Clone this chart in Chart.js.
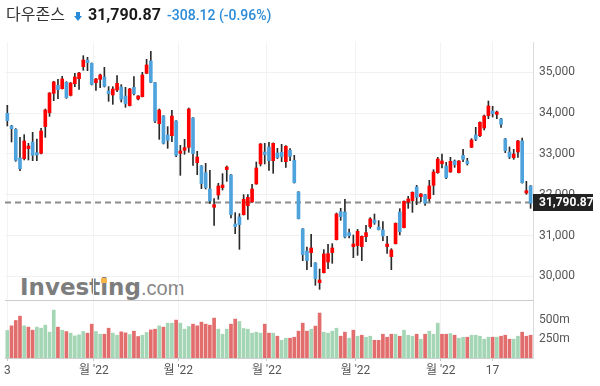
<!DOCTYPE html>
<html lang="ko">
<head>
<meta charset="utf-8">
<title>다우존스</title>
<script src="https://cdn.jsdelivr.net/npm/chart.js@4.4.1/dist/chart.umd.min.js"></script>
<style>
  html, body { margin: 0; padding: 0; background: #fff; }
  #wrap { position: relative; width: 600px; height: 386px; overflow: hidden;
          font-family: Roboto, "Noto Sans CJK KR", sans-serif; }
  #chart { position: absolute; left: 0; top: 0; z-index: 1; }
  .hdr { position: absolute; top: 3px; line-height: 24px; white-space: nowrap; z-index: 2; }
  #name { left: 6px; font-size: 16px; color: #333; }
  #arrow { left: 74px; top: 12px; width: 8px; height: 9px; }
  #arrow .stem { position: absolute; left: 2px; top: 0; width: 4px; height: 4px; background: #2a8bd8; }
  #arrow .head { position: absolute; left: 0; top: 4px; width: 0; height: 0;
                 border-left: 4px solid transparent; border-right: 4px solid transparent; border-top: 5px solid #2a8bd8; }
  #price { left: 88px; font-size: 16px; font-weight: bold; color: #1a1a1a; }
  #change { left: 167px; font-size: 14px; font-weight: 500; color: #2a8bd8; }
  #logo { position: absolute; left: 20px; top: 273px; z-index: 0; white-space: nowrap; line-height: 28px; }
  #logo .big { font-family: "DejaVu Sans", sans-serif; font-weight: bold; font-size: 23px; color: #7d7d7d; }
  #logo .dom { font-family: "Liberation Sans", sans-serif; font-size: 20px; color: #888; }
  #logo .ii { position: relative; }
  #logo .ii::after { content: ""; position: absolute; left: 1px; top: 4px; width: 6px; height: 5px; background: #f7b54a; }
</style>
</head>
<body>
<div id="wrap">
  <div id="logo"><span class="big">Invest<span class="ii">i</span>ng</span><span class="dom">.com</span></div>
  <canvas id="chart" width="600" height="386"></canvas>
  <div class="hdr" id="name">다우존스</div>
  <div class="hdr" id="arrow"><div class="stem"></div><div class="head"></div></div>
  <div class="hdr" id="price">31,790.87</div>
  <div class="hdr" id="change">-308.12 (-0.96%)</div>
</div>
<script>
// Daily candles (oldest first)
const opens = [
  33995, 33684, 33602, 32900, 32884, 33129, 33292, 33030, 33014, 33668,
  34011, 34485, 34681, 34599, 34754, 34436, 34722, 34844, 35138, 35302,
  35220, 34746, 34828, 34885, 34542, 34444, 34567, 34640, 34419, 34183,
  34632, 34346, 34403, 34975, 35277, 34746, 33741, 33929, 33464, 33447,
  33807, 33014, 33088, 33161, 33880, 32785, 32704, 32540, 32140, 31691,
  31993, 32173, 32614, 32483, 31282, 31454, 31511, 31731, 31821, 32263,
  32753, 33047, 33169, 32834, 33022, 33039, 32810, 33088, 32843, 32067,
  31160, 30620, 30580, 30326, 29844, 30089, 30351, 30580, 30898, 31584,
  31576, 31070, 30727, 30751, 30727, 30972, 31217, 31380, 31209, 31135,
  30727, 30482, 30800, 31576, 31193, 31821, 31854, 32189, 31952, 32001,
  31903, 32230, 32540, 32761, 32704, 32557, 32826, 32540, 32965, 32826,
  33161, 33464, 33447, 33635, 33937, 34052, 33970, 33856, 33366, 33047,
  32908, 33047, 33317, 32042, 32214
];
const highs = [
  34191, 33700, 33620, 33406, 33472, 33259, 33529, 33366, 33627, 34101,
  34501, 34780, 34828, 34901, 34770, 34750, 34975, 35000, 35408, 35367,
  35230, 34852, 34959, 35122, 34648, 34648, 34918, 34697, 34632, 34607,
  34893, 34430, 35000, 35318, 35514, 34755, 34101, 33940, 33668, 34068,
  33815, 33210, 33357, 34125, 33890, 33063, 32715, 32769, 32598, 31903,
  32279, 32516, 32704, 32495, 31560, 31535, 32001, 32001, 32254, 32802,
  33255, 33259, 33284, 33270, 33137, 33235, 33202, 33129, 32965, 32077,
  31170, 30719, 31029, 30336, 30179, 30653, 30784, 30800, 31552, 31666,
  31887, 31160, 31013, 31151, 30990, 31250, 31437, 31527, 31364, 31339,
  30980, 30678, 31310, 31658, 31850, 31960, 32070, 32230, 32030, 32010,
  32352, 32614, 32916, 32998, 32794, 32916, 32851, 32835, 33112, 32892,
  33374, 33651, 33785, 33954, 34297, 34166, 34052, 33870, 33380, 33169,
  33112, 33330, 33390, 32328, 32225
];
const lows = [
  33684, 33292, 32818, 32589, 32851, 32851, 32834, 32834, 32998, 33406,
  33921, 34305, 34354, 34590, 34362, 34420, 34648, 34583, 35049, 35040,
  34689, 34558, 34624, 34640, 34289, 34215, 34526, 34272, 34142, 34174,
  34444, 34322, 34395, 34965, 34745, 33766, 33357, 33243, 33137, 33300,
  32933, 32475, 32990, 33039, 32720, 32491, 32148, 32140, 31789, 31250,
  31887, 32115, 32328, 31429, 31045, 30661, 31500, 31397, 31810, 32255,
  32704, 32753, 32598, 32524, 32884, 32810, 32671, 32834, 32285, 31405,
  30384, 30163, 30236, 29779, 29681, 30080, 30187, 30318, 30890, 31372,
  30939, 30939, 30457, 30514, 30384, 30849, 31176, 31274, 31135, 30874,
  30563, 30163, 30790, 31013, 31185, 31666, 31568, 31756, 31830, 31740,
  31838, 32001, 32524, 32655, 32393, 32548, 32671, 32532, 32810, 32728,
  33153, 33325, 33423, 33586, 33864, 33905, 33864, 33652, 33031, 32884,
  32867, 32916, 32285, 32010, 31666
];
const closes = [
  33815, 33619, 32843, 32638, 33317, 33194, 32965, 32975, 33562, 34076,
  34493, 34763, 34575, 34836, 34379, 34738, 34885, 34983, 35302, 35236,
  34705, 34836, 34934, 34656, 34477, 34591, 34730, 34338, 34232, 34591,
  34477, 34420, 34934, 35180, 34754, 33807, 34076, 33259, 33333, 33929,
  32965, 33071, 33153, 34101, 33006, 32924, 32271, 32173, 31846, 31756,
  32214, 32238, 32679, 31511, 31217, 31266, 31887, 31936, 32140, 32655,
  33243, 32982, 32834, 33259, 32908, 32933, 33186, 32941, 32295, 31413,
  30531, 30384, 30694, 29942, 29910, 30547, 30555, 30694, 31527, 31462,
  30964, 30996, 30792, 31102, 30980, 31070, 31405, 31307, 31143, 30988,
  30792, 30645, 31299, 31094, 31838, 31895, 32058, 31936, 32018, 31789,
  32214, 32557, 32875, 32826, 32418, 32818, 32736, 32826, 32867, 32761,
  33341, 33357, 33774, 33929, 34174, 33986, 34027, 33725, 33080, 32924,
  32998, 33317, 32295, 32099, 31790.87
];
// close of the day before the first candle (only colours the first volume bar)
const priorClose = 33700;
// volume, millions of shares
const volumes = [
  360, 421, 491, 548, 421, 404, 364, 404, 390, 430,
  338, 627, 404, 364, 346, 325, 289, 303, 346, 325,
  443, 346, 311, 311, 390, 325, 298, 342, 329, 307,
  351, 281, 298, 333, 368, 377, 421, 404, 456, 456,
  496, 456, 377, 412, 443, 421, 469, 443, 430, 522,
  377, 311, 377, 443, 509, 478, 386, 377, 325, 338,
  325, 443, 325, 325, 285, 232, 259, 259, 272, 351,
  456, 351, 377, 417, 588, 338, 325, 351, 390, 285,
  338, 259, 364, 285, 298, 272, 285, 232, 232, 311,
  272, 311, 311, 285, 364, 298, 285, 311, 246, 311,
  351, 311, 456, 311, 311, 320, 298, 259, 272, 272,
  298, 298, 285, 246, 272, 272, 272, 285, 298, 246,
  246, 285, 338, 285, 298
];

// x axis: tick positions (candle index units) and their labels
const tickPos = [0, 20.5, 40.5, 61.5, 82.5, 102.7, 115];
const tickLabels = ['3', "월 '22", "월 '22", "월 '22", "월 '22", "월 '22", '17'];
const priceTicks = [30000, 31000, 32000, 33000, 34000, 35000];
const volTicks = [250, 500];
const volLabels = ['250m', '500m'];
const volMax = 759;

const UP = '#fe0000', DOWN = '#4fa3dd', WICK = '#2a2a2a';
const VOL_UP = '#a4d6b5', VOL_DOWN = '#e26d6d';
const lastClose = closes[closes.length - 1];

function fmt(v, d) {
  return v.toLocaleString('en-US', { minimumFractionDigits: d, maximumFractionDigits: d });
}

const bodies = opens.map((o, i) => ({ x: i, y: [o, closes[i]] }));
const wicks = lows.map((l, i) => ({ x: i, y: [l, highs[i]] }));
const vols = volumes.map((v, i) => ({ x: i, y: v }));

const bodyColors = opens.map((o, i) => closes[i] >= o ? UP : DOWN);
const volColors = closes.map((c, i) => c >= (i ? closes[i - 1] : priorClose) ? VOL_UP : VOL_DOWN);

// dashed line at last price plus the dark price tag on the axis
const lastPriceLine = {
  id: 'lastPriceLine',
  beforeDatasetsDraw(chart) {
    const { ctx, chartArea, scales } = chart;
    const y = Math.round(scales.y.getPixelForValue(lastClose)) - 0.5;
    ctx.save();
    ctx.strokeStyle = '#8c8c8c';
    ctx.lineWidth = 2;
    ctx.setLineDash([6, 4]);
    ctx.beginPath();
    ctx.moveTo(chartArea.left, y);
    ctx.lineTo(chartArea.right, y);
    ctx.stroke();
    ctx.restore();
  },
  afterDraw(chart) {
    const { ctx, chartArea, scales } = chart;
    const y = scales.y.getPixelForValue(lastClose);
    ctx.save();
    ctx.fillStyle = '#222';
    ctx.fillRect(chartArea.right, Math.round(y - 9), 60, 17);
    ctx.fillStyle = '#fff';
    ctx.font = 'bold 12px Roboto, sans-serif';
    ctx.textBaseline = 'middle';
    ctx.fillText(fmt(lastClose, 2), chartArea.right + 6, y);
    ctx.restore();
  }
};

Chart.defaults.font.family = 'Roboto, "Noto Sans CJK KR", sans-serif';

new Chart(document.getElementById('chart'), {
  type: 'bar',
  data: {
    datasets: [
      { data: bodies, backgroundColor: bodyColors, barThickness: 3, grouped: false, order: 0, yAxisID: 'y' },
      { data: wicks, backgroundColor: WICK, barThickness: 1, grouped: false, order: 1, yAxisID: 'y' },
      { data: vols, backgroundColor: volColors, barThickness: 3, grouped: false, order: 2, yAxisID: 'yVol' }
    ]
  },
  options: {
    responsive: false,
    animation: false,
    events: [],
    layout: { padding: { top: 42, left: 5, right: 0, bottom: 0 } },
    plugins: { legend: { display: false }, tooltip: { enabled: false } },
    scales: {
      x: {
        type: 'linear',
        min: -0.55,
        max: 124.57,
        offset: false,
        afterBuildTicks: s => { s.ticks = tickPos.map(v => ({ value: v })); },
        afterFit: s => { s.height = 28; },
        ticks: {
          autoSkip: false, maxRotation: 0, minRotation: 0, padding: 3,
          color: '#555', font: { size: 12 },
          callback: (v, i) => tickLabels[i]
        },
        grid: { offset: false, color: '#f3f3f3', tickColor: '#c8c8c8', tickLength: 3 },
        border: { color: '#cfcfcf' }
      },
      y: {
        position: 'right',
        stack: 'panes',
        stackWeight: 258,
        weight: 0,
        min: 29419,
        max: 35743,
        afterBuildTicks: s => { s.ticks = priceTicks.map(v => ({ value: v })); },
        afterFit: s => { s.width = 67; },
        ticks: { autoSkip: false, padding: 6, color: '#555', font: { size: 12 }, callback: v => fmt(v, 0) },
        grid: { color: '#f1f1f1', drawTicks: false },
        border: { color: '#dcdcdc' }
      },
      yVol: {
        position: 'right',
        stack: 'panes',
        stackWeight: 58,
        weight: 1,
        min: 0,
        max: volMax,
        afterBuildTicks: s => { s.ticks = volTicks.concat([volMax]).map(v => ({ value: v })); },
        afterFit: s => { s.width = 67; },
        ticks: {
          autoSkip: false, padding: 6, color: '#555', font: { size: 12 },
          callback: (v, i) => volLabels[i] || ''
        },
        grid: {
          drawTicks: false,
          color: c => c.tick && c.tick.value === volMax ? '#cccccc' : 'rgba(0,0,0,0)'
        },
        border: { color: '#dcdcdc' }
      }
    }
  },
  plugins: [lastPriceLine]
});
</script>
</body>
</html>
